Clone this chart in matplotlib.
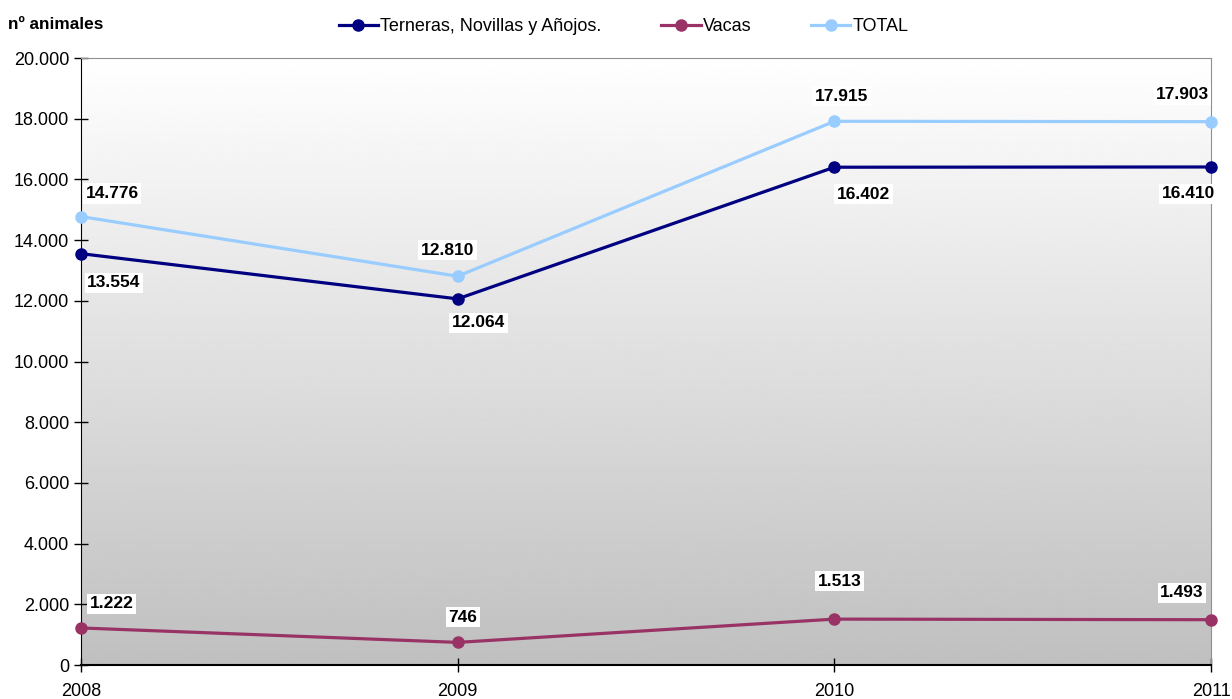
import numpy as np
import matplotlib.pyplot as plt
from matplotlib.ticker import FuncFormatter

plt.rcParams['font.family'] = ['Liberation Sans', 'DejaVu Sans']

years = ["2008", "2009", "2010", "2011"]
terneras = [13554, 12064, 16402, 16410]
vacas = [1222, 746, 1513, 1493]
total = [14776, 12810, 17915, 17903]

def fmt(v):
    return f"{v:,}".replace(",", ".")

fig = plt.figure(figsize=(12.32, 6.99), dpi=100)
ax = fig.add_axes([0.0657, 0.0486, 0.9173, 0.8684])

x = np.arange(len(years))

# gradient background
grad = np.linspace(1.0, 0.75, 256).reshape(-1, 1)
ax.imshow(grad, cmap="gray", vmin=0, vmax=1, aspect="auto",
          extent=[0, 1, 0, 1], transform=ax.transAxes, zorder=0)

ax.plot(x, terneras, color="#000080", lw=2.3, marker="o", ms=8,
        label="Terneras, Novillas y Añojos.", clip_on=False, zorder=3)
ax.plot(x, vacas, color="#993366", lw=2.3, marker="o", ms=8,
        label="Vacas", clip_on=False, zorder=3)
ax.plot(x, total, color="#99CCFF", lw=2.3, marker="o", ms=8,
        label="TOTAL", clip_on=False, zorder=3)

# label offsets in pixels (dx, dy upward)
off_t = [(33, -29), (21, -24), (29, -27), (-23, -27)]
off_v = [(31, 24), (5, 25), (5, 38), (-29, 27)]
off_tot = [(31, 23), (-10, 26), (7, 25), (-29, 27)]
box = dict(boxstyle="square,pad=0.15", fc="white", ec="none")
for series, offs in ((terneras, off_t), (vacas, off_v), (total, off_tot)):
    for i, v in enumerate(series):
        ax.annotate(fmt(v), (x[i], v), xytext=offs[i], textcoords="offset pixels",
                    ha="center", va="center", fontsize=12.5, fontweight="bold",
                    bbox=box, zorder=5, annotation_clip=False)

ax.set_xlim(0, 3)
ax.set_ylim(0, 20000)
ax.set_yticks(range(0, 20001, 2000))
ax.yaxis.set_major_formatter(FuncFormatter(lambda v, p: fmt(int(v))))
ax.set_xticks(x)
ax.set_xticklabels(years)
ax.tick_params(axis="both", direction="inout", length=10, labelsize=13, width=1)
ax.tick_params(axis="x", pad=8)

for s in ("top", "right"):
    ax.spines[s].set_color("#909090")
for s in ("left", "bottom"):
    ax.spines[s].set_color("black")
ax.spines["bottom"].set_linewidth(1.5)

fig.text(0.0065, 0.965, "nº animales", fontsize=12.4, fontweight="bold",
         ha="left", va="center")

fig.legend(loc="center", bbox_to_anchor=(0.506, 0.962), ncol=3, frameon=False,
           fontsize=13, handlelength=2.2, handletextpad=0.1, columnspacing=3.3)

fig.savefig("out.png", dpi=100)
